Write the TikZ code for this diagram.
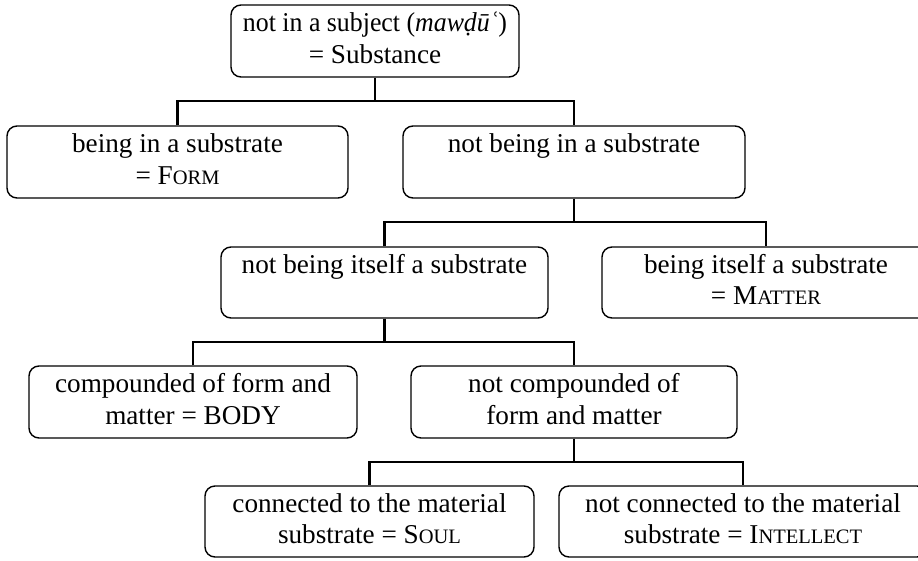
\documentclass[tikz,border=0pt]{standalone}
\usepackage{graphicx}
\usepackage{fontspec}
\setmainfont{Liberation Serif}
\newcommand{\smcap}[2]{#1{\fontsize{20.5}{20.5}\selectfont #2}}
\begin{document}
\begin{tikzpicture}[x=1pt,y=-1pt,
  box/.style={draw, line width=1.4pt, rounded corners=10pt,
    minimum height=72pt, inner sep=0pt, align=center,
    font=\fontsize{27.2}{31.5}\selectfont},
  conn/.style={line width=2.2pt}]
\useasboundingbox (0,0) rectangle (918,560);
\clip (0,0) rectangle (918,560);

% nodes of the division tree
\node[box, minimum width=288pt] (top) at (375,41)
  {\strut\scalebox{0.95}[1]{not in a subject (\textit{mawḍūʿ})}\\\strut = Substance};
\node[box, minimum width=341pt] (form) at (177.5,162)
  {\strut being in a substrate\\\strut = \smcap{F}{ORM}};
\node[box, minimum width=342pt] (notin) at (574,162)
  {\strut not being in a substrate\\\strut};
\node[box, minimum width=327pt, minimum height=71pt] (notitself) at (384.5,282.5)
  {\strut not being itself a substrate\\\strut};
\node[box, minimum width=328pt, minimum height=71pt] (matter) at (766,282.5)
  {\strut being itself a substrate\\\strut = \smcap{M}{ATTER}};
\node[box, minimum width=328pt] (body) at (193,402)
  {\strut compounded of form and\\\strut matter = BODY};
\node[box, minimum width=326pt] (notcomp) at (574,402)
  {\strut not compounded of\\\strut form and matter};
\node[box, minimum width=329pt, minimum height=71pt] (soul) at (369.5,521.5)
  {\strut connected to the material\\\strut substrate = \smcap{S}{OUL}};
\node[box, minimum width=368pt, minimum height=71pt] (intellect) at (743,521.5)
  {\strut not connected to the material\\\strut substrate = \smcap{I}{NTELLECT}};

% branching points
\coordinate (j1) at (375,101);
\coordinate (j2) at (574,222);
\coordinate (j3) at (384.5,342);
\coordinate (j4) at (574,462);

% connectors
\draw[conn] (top.south) -- (j1);
\draw[conn] (form.north) |- (j1) -| (notin.north);
\draw[conn] (notin.south) -- (j2);
\draw[conn] (notitself.north) |- (j2) -| (matter.north);
\draw[conn] (notitself.south) -- (j3);
\draw[conn] (body.north) |- (j3) -| (notcomp.north);
\draw[conn] (notcomp.south) -- (j4);
\draw[conn] (soul.north) |- (j4) -| (intellect.north);
\end{tikzpicture}
\end{document}
